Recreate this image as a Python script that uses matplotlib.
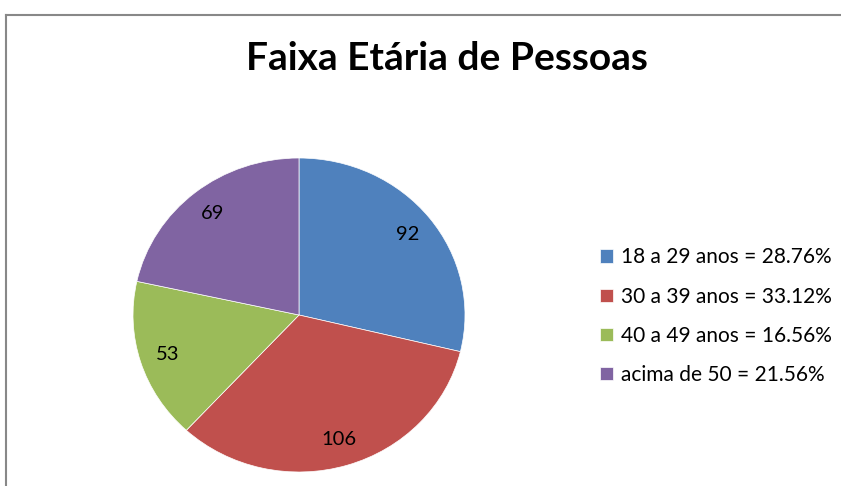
import matplotlib.pyplot as plt
from matplotlib.lines import Line2D

plt.rcParams['font.family'] = ['Lato', 'DejaVu Sans']

# dados
faixas = ['18 a 29 anos', '30 a 39 anos', '40 a 49 anos', 'acima de 50']
pessoas = [92, 106, 53, 69]
percentuais = ['28.76%', '33.12%', '16.56%', '21.56%']
cores = ['#4F81BD', '#C0504D', '#9BBB59', '#8064A2']

fig = plt.figure(figsize=(8.41, 4.86), dpi=100)

# moldura cinza (topo e esquerda)
fig.add_artist(Line2D([6/841, 6/841], [0, 1 - 15/486], color='#888888', lw=1.5))
fig.add_artist(Line2D([6/841, 1], [1 - 15/486, 1 - 15/486], color='#888888', lw=1.5))

ax = fig.add_axes([133/841, 14/486, 332/841, 314/486])
total = sum(pessoas)
wedges, _, autotexts = ax.pie(
    pessoas, colors=cores, startangle=90, counterclock=False,
    autopct=lambda p: '%d' % round(p * total / 100), pctdistance=0.83,
    wedgeprops=dict(edgecolor='white', linewidth=0.5),
    textprops=dict(fontsize=14.5, color='black'))
ax.set_aspect('auto')
ax.set_xlim(-1, 1)
ax.set_ylim(-1, 1)

fig.text(447/841, 1 - 58/486, 'Faixa Etária de Pessoas', ha='center', va='center',
         fontsize=28, fontweight='bold')

rotulos = ['%s = %s' % (f, p) for f, p in zip(faixas, percentuais)]
fig.legend(wedges, rotulos, loc='upper left', bbox_to_anchor=(592/841, 1 - 239/486),
           frameon=False, fontsize=15, labelspacing=0.92, handlelength=0.6,
           handleheight=0.6, handletextpad=0.4, borderaxespad=0)

fig.savefig('out.png', dpi=100)
